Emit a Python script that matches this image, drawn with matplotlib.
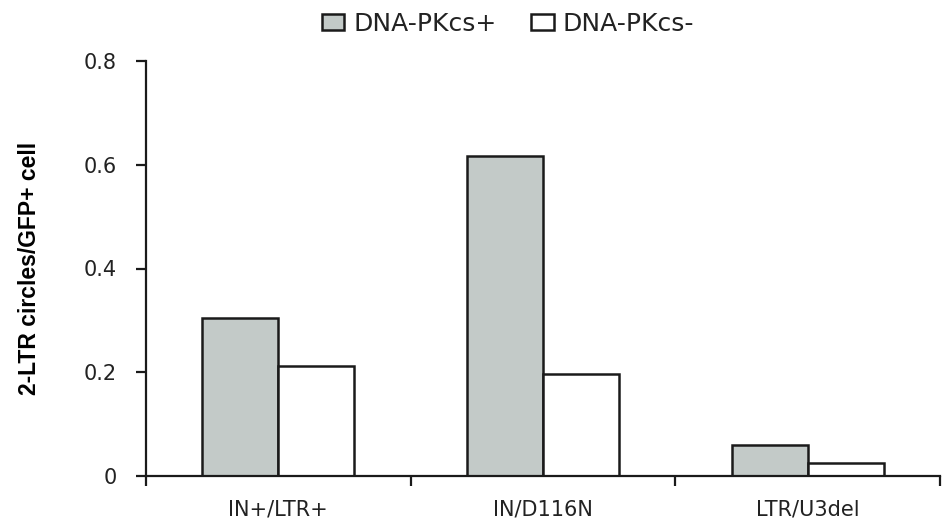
import matplotlib
matplotlib.use("Agg")
import matplotlib.pyplot as plt
import numpy as np

categories = ["IN+/LTR+", "IN/D116N", "LTR/U3del"]
series_names = ["DNA-PKcs+", "DNA-PKcs-"]
pk_plus = [0.305, 0.617, 0.060]
pk_minus = [0.213, 0.197, 0.025]
yticks = [0, 0.2, 0.4, 0.6, 0.8]
ytick_labels = ["0", "0.2", "0.4", "0.6", "0.8"]
ylabel = "2-LTR circles/GFP+ cell"

plt.rcParams['font.family'] = ['DejaVu Sans']

fig = plt.figure(figsize=(9.46, 5.23), dpi=100)
ax = fig.add_axes([146/946, 47/523, 794/946, 415/523])

x = np.arange(len(categories))
w = 0.287
ax.bar(x - w/2, pk_plus, width=w, color='#c3cac8', edgecolor='#1a1a1a', linewidth=1.8, label=series_names[0])
ax.bar(x + w/2, pk_minus, width=w, color='white', edgecolor='#1a1a1a', linewidth=1.8, label=series_names[1])

ax.set_xlim(-0.5, len(categories) - 0.5)
ax.set_ylim(0, 0.8)
ax.set_yticks(yticks)
ax.set_yticklabels(ytick_labels, fontsize=15, color='#222222')
ax.set_xticks(x)
ax.set_xticklabels(categories, fontsize=15, color='#222222')
ax.tick_params(axis='x', length=0, pad=17)
ax.set_xticks(np.arange(-0.5, len(categories)), minor=True)
ax.tick_params(axis='x', which='minor', length=7, width=1.6, direction='out', color='#1a1a1a')
ax.tick_params(axis='y', length=7, width=1.6, direction='out', pad=14, color='#1a1a1a')

for s in ['top', 'right']:
    ax.spines[s].set_visible(False)
for s in ['left', 'bottom']:
    ax.spines[s].set_linewidth(1.6)
    ax.spines[s].set_color('#1a1a1a')

ax.set_ylabel(ylabel, fontsize=16.5, fontweight='bold',
              family=['Liberation Sans Narrow', 'Liberation Sans', 'DejaVu Sans'], labelpad=31)

leg = fig.legend(*ax.get_legend_handles_labels(), loc='center', bbox_to_anchor=(508/946, 1 - 24/523),
                 ncol=2, frameon=False, fontsize=18, handlelength=0.9, handleheight=0.62,
                 handletextpad=0.35, columnspacing=1.4, borderaxespad=0, borderpad=0)
for t in leg.get_texts():
    t.set_color('#222222')

fig.savefig("out.png", dpi=100)
